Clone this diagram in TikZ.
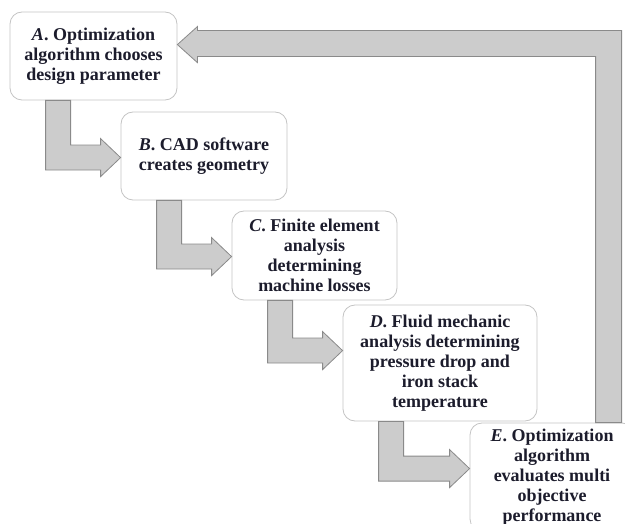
\documentclass[tikz,border=0pt]{standalone}
\usepackage{fontspec}
\setmainfont{Liberation Serif}
\usetikzlibrary{calc}
\definecolor{stageink}{HTML}{1C1C2C}
\definecolor{boxline}{HTML}{C4C4C4}
\definecolor{arrowfill}{HTML}{CCCCCC}
\definecolor{arrowline}{HTML}{8A8A8A}

\begin{document}
\begin{tikzpicture}[x=1pt,y=-1pt,
    stagebox/.style={draw=boxline, fill=white, rounded corners=12pt, line width=0.8pt,
      align=center, inner sep=0pt, text=stageink,
      font=\fontsize{18}{20}\selectfont\bfseries},
    fatarrow/.style={fill=arrowfill, draw=arrowline, line width=0.8pt}]
  \useasboundingbox (0,0) rectangle (625,524);
  \clip (0,0) rectangle (625,524);
  % Stages of the optimization loop
  \node[stagebox, minimum width=167pt, minimum height=88pt] (A) at (93.5,56)
    {\textit{A}. Optimization\\algorithm chooses\\design parameter};
  \node[stagebox, minimum width=166pt, minimum height=88pt] (B) at (204,156)
    {\textit{B}. CAD software\\creates geometry};
  \node[stagebox, minimum width=165pt, minimum height=89pt] (C) at (314.5,255.5)
    {\textit{C}. Finite element\\analysis\\determining\\machine losses};
  \node[stagebox, minimum width=194pt, minimum height=116pt] (D) at (440,363)
    {\textit{D}. Fluid mechanic\\analysis determining\\pressure drop and\\iron stack\\temperature};
  \node[stagebox, minimum width=164pt, minimum height=108pt] (E) at (552,477)
    {\textit{E}. Optimization\\algorithm\\evaluates multi\\objective\\performance};
  % Bent arrows from one stage to the next
  \foreach \from/\to in {A/B,B/C,C/D,D/E} {
    \draw[fatarrow] let \p1=(\from.south west), \p2=(\to.north west) in
      (\x1+36pt,\y1) -- (\x1+61pt,\y1) -- (\x1+61pt,\y2-33.5pt)
      -- (\x2-20pt,\y2-33.5pt) -- (\x2-20pt,\y2-27pt) -- (\x2,\y2-46pt)
      -- (\x2-20pt,\y2-65pt) -- (\x2-20pt,\y2-58.5pt) -- (\x1+36pt,\y2-58.5pt) -- cycle;
  }
  % Feedback arrow back to the first stage
  \draw[fatarrow] let \p1=(E.north west), \p2=(A.north east) in
    (\x1+126pt,\y1) -- (\x1+126pt,\y2-45pt) -- (\x2+20pt,\y2-45pt)
    -- (\x2+20pt,\y2-51pt) -- (\x2,\y2-33pt) -- (\x2+20pt,\y2-15pt)
    -- (\x2+20pt,\y2-19pt) -- (\x1+152pt,\y2-19pt) -- (\x1+152pt,\y1) -- cycle;
\end{tikzpicture}
\end{document}
